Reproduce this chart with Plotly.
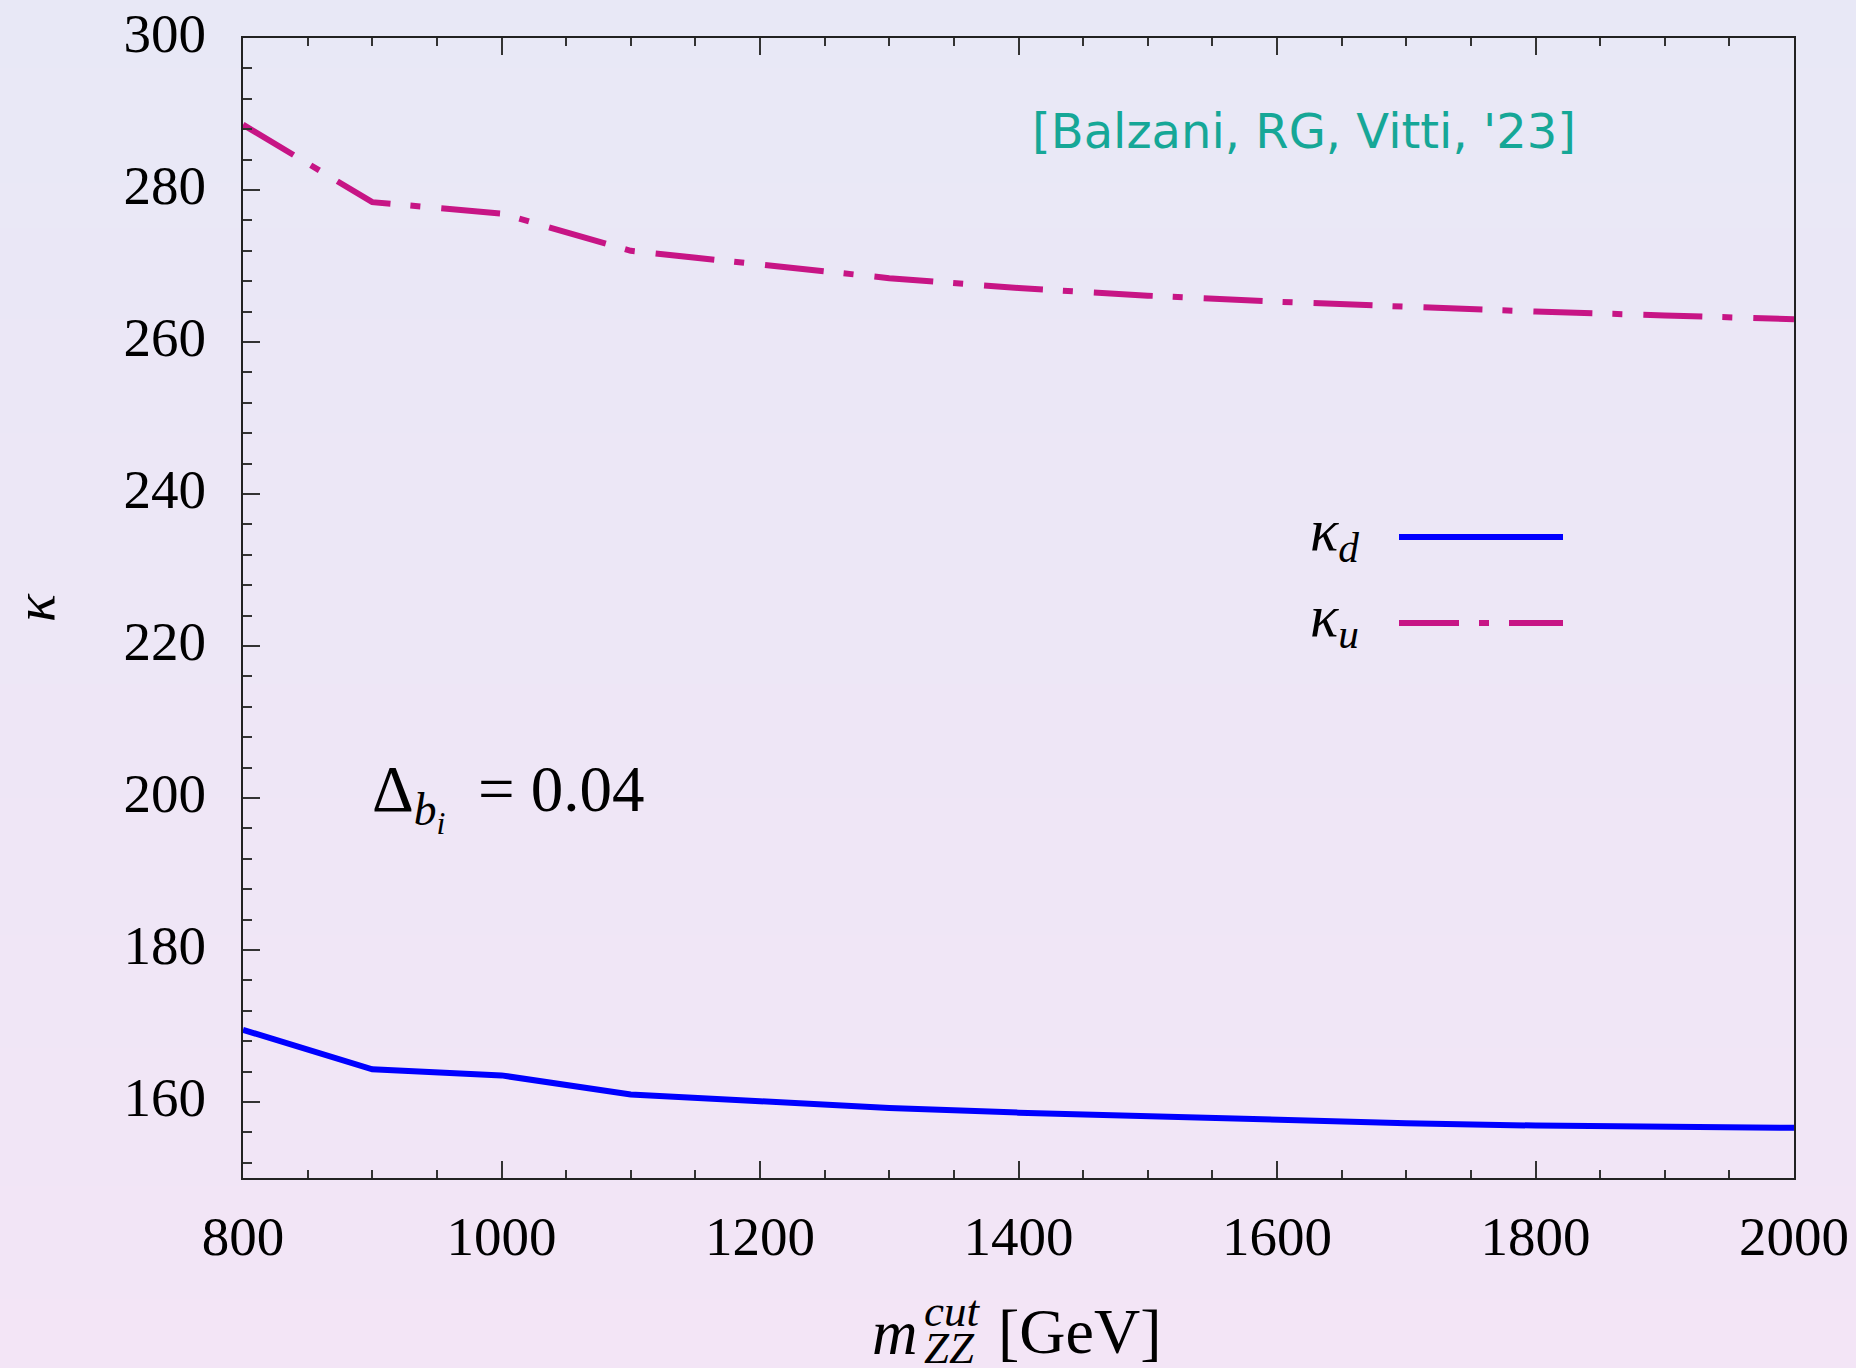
import plotly.graph_objects as go

# ---- data ----
m_cut = [800, 900, 1000, 1100, 1200, 1300, 1400, 1500, 1600, 1700, 1800, 1900, 2000]
kappa_d = [169.5, 164.3, 163.5, 161.0, 160.1, 159.2, 158.6, 158.1, 157.6, 157.2, 156.9, 156.7, 156.6]
kappa_u = [288.6, 278.4, 276.9, 272.0, 270.2, 268.4, 267.1, 266.1, 265.3, 264.6, 264.0, 263.5, 263.0]
x_ticks = [800, 1000, 1200, 1400, 1600, 1800, 2000]
y_ticks = [160, 180, 200, 220, 240, 260, 280, 300]

W, H = 1856, 1368
L, R, T, B = 243, 1794, 38, 1178
PW, PH = R - L, B - T

def px(x):
    return (x - L) / PW

def py(y):
    return (B - y) / PH

SERIF = "Liberation Serif"
BLUE = "#0000FF"
MAG = "#C71585"
LW = 6

fig = go.Figure()
fig.add_trace(go.Scatter(x=m_cut, y=kappa_d, mode="lines",
                         line=dict(color=BLUE, width=LW), showlegend=False, hoverinfo="skip"))
fig.add_trace(go.Scatter(x=m_cut, y=kappa_u, mode="lines",
                         line=dict(color=MAG, width=LW, dash="59px,20px,10px,21px"),
                         showlegend=False, hoverinfo="skip"))

# background gradient bands
shapes = []
N = 60
top_c = (232, 232, 246)
bot_c = (243, 229, 246)
for i in range(N):
    f = (i + 0.5) / N
    c = tuple(round(top_c[k] + (bot_c[k] - top_c[k]) * f) for k in range(3))
    y0 = i * H / N
    y1 = (i + 1) * H / N + 1
    shapes.append(dict(type="rect", xref="paper", yref="paper", layer="below",
                       x0=px(-2), x1=px(W + 2), y0=py(y1), y1=py(y0 - (2 if i == 0 else 0)),
                       line=dict(width=0), fillcolor="rgb(%d,%d,%d)" % c))

# legend sample lines
shapes.append(dict(type="line", xref="paper", yref="paper", x0=px(1399), x1=px(1563),
                   y0=py(537), y1=py(537), line=dict(color=BLUE, width=LW)))
shapes.append(dict(type="line", xref="paper", yref="paper", x0=px(1399), x1=px(1563),
                   y0=py(623), y1=py(623), line=dict(color=MAG, width=LW, dash="60px,20px,10px,20px")))

annotations = [
    dict(text="<i>κ</i><sub><i>d</i></sub>", x=px(1361), y=py(534), xref="paper", yref="paper",
         xanchor="right", yanchor="middle", showarrow=False, font=dict(family=SERIF, size=59, color="black")),
    dict(text="<i>κ</i><sub><i>u</i></sub>", x=px(1361), y=py(620), xref="paper", yref="paper",
         xanchor="right", yanchor="middle", showarrow=False, font=dict(family=SERIF, size=59, color="black")),
    dict(text="Δ<sub><i>b<sub>i</sub></i></sub>  = 0.04", x=px(370), y=py(797), xref="paper", yref="paper",
         xanchor="left", yanchor="middle", showarrow=False, font=dict(family=SERIF, size=65, color="black")),
    dict(text="[Balzani, RG, Vitti, '23]", x=px(1304), y=py(131), xref="paper", yref="paper",
         xanchor="center", yanchor="middle", showarrow=False,
         font=dict(family="DejaVu Sans", size=48, color="#16A797")),
    # y title
    dict(text="<i>κ</i>", x=px(34), y=py(608), xref="paper", yref="paper", textangle=-90,
         xanchor="center", yanchor="middle", showarrow=False, font=dict(family=SERIF, size=58, color="black")),
    # x title pieces
    dict(text="<i>m</i>", x=px(920), y=py(1333), xref="paper", yref="paper",
         xanchor="right", yanchor="middle", showarrow=False, font=dict(family=SERIF, size=63, color="black")),
    dict(text="<i>cut</i>", x=px(922), y=py(1311), xref="paper", yref="paper",
         xanchor="left", yanchor="middle", showarrow=False, font=dict(family=SERIF, size=45, color="black")),
    dict(text="<i>ZZ</i>", x=px(922), y=py(1348), xref="paper", yref="paper",
         xanchor="left", yanchor="middle", showarrow=False, font=dict(family=SERIF, size=45, color="black")),
    dict(text="[GeV]", x=px(996), y=py(1331), xref="paper", yref="paper",
         xanchor="left", yanchor="middle", showarrow=False, font=dict(family=SERIF, size=64, color="black")),
]

axis_common = dict(showline=True, linecolor="#222222", linewidth=2, showgrid=False, zeroline=False,
                   automargin=False,
                   ticks="inside", ticklen=17, tickwidth=1.5, tickcolor="#333333",
                   tickfont=dict(family=SERIF, size=55, color="black"))

fig.update_layout(
    width=W, height=H,
    margin=dict(l=L, r=W - R, t=T, b=H - B, pad=0, autoexpand=False),
    paper_bgcolor="rgb(238,231,246)",
    plot_bgcolor="rgba(0,0,0,0)",
    shapes=shapes,
    annotations=annotations,
    xaxis=dict(range=[800, 2000], tickvals=x_ticks, mirror="ticks",
               minor=dict(dtick=50, ticklen=8, tickwidth=1.5, tickcolor="#333333", ticks="inside", showgrid=False),
               ticklabelstandoff=9, **axis_common),
    yaxis=dict(range=[150, 300], tickvals=y_ticks, mirror=True,
               minor=dict(dtick=4, tick0=0, ticklen=9, tickwidth=1.5, tickcolor="#333333", ticks="inside", showgrid=False),
               ticklabelstandoff=24, ticklabelshift=-5, **axis_common),
)

fig.write_html("out.html", config={"displayModeBar": False},
               post_script="document.body.style.margin='0';document.body.style.padding='0';"
                           "document.body.style.background='rgb(238,231,246)';")
